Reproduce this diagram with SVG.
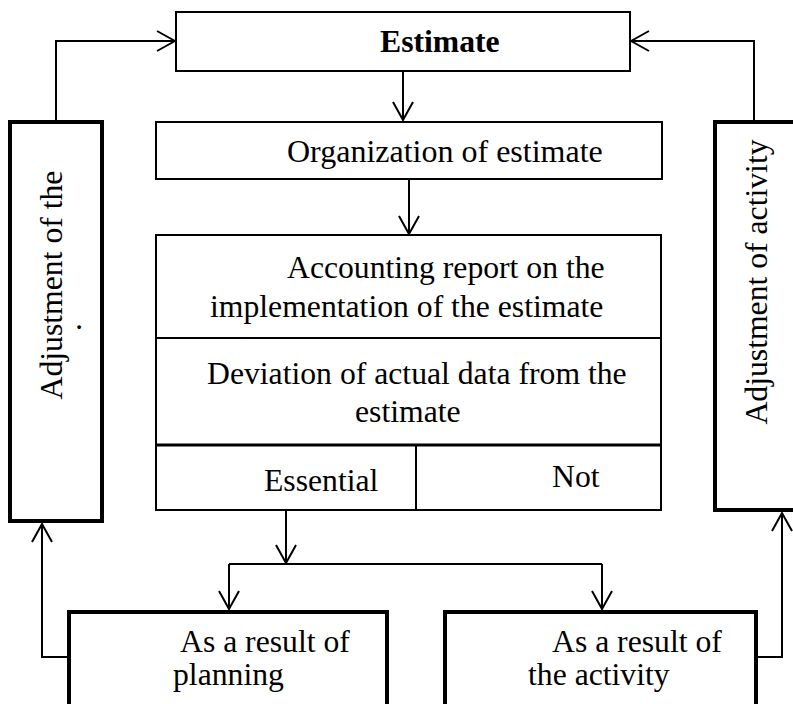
<svg xmlns="http://www.w3.org/2000/svg" width="793" height="704" viewBox="0 0 793 704" font-family="Liberation Serif, Times New Roman, serif" font-size="31.7">
  <style>
    .box { fill: #fff; stroke: #000; stroke-width: 2; }
    .heavy { fill: #fff; stroke: #000; stroke-width: 4; }
    .line { fill: none; stroke: #000; stroke-width: 2; }
    .bold { font-weight: bold; }
    .mid { text-anchor: middle; }
  </style>
  <defs>
    <marker id="arrow" viewBox="0 0 20 22" refX="19" refY="11" markerWidth="20" markerHeight="22" markerUnits="userSpaceOnUse" orient="auto">
      <path d="M1,1 L19,11 L1,21" fill="none" stroke="#000" stroke-width="2"/>
    </marker>
  </defs>

  <rect width="793" height="704" fill="#fff"/>

  <!-- Connectors -->
  <g id="connectors" class="line">
    <path d="M56,120 V41 H175" marker-end="url(#arrow)"/>
    <path d="M754,120 V41 H631" marker-end="url(#arrow)"/>
    <path d="M403,71 V120" marker-end="url(#arrow)"/>
    <path d="M409,179 V234" marker-end="url(#arrow)"/>
    <path d="M286,510 V563" marker-end="url(#arrow)"/>
    <path d="M229,564 H602"/>
    <path d="M229,564 V609" marker-end="url(#arrow)"/>
    <path d="M602,564 V609" marker-end="url(#arrow)"/>
    <path d="M67,657 H42 V524" marker-end="url(#arrow)"/>
    <path d="M758,657 H782 V513" marker-end="url(#arrow)"/>
  </g>

  <!-- Top: estimate -->
  <g id="estimate">
    <rect class="box" x="176" y="12" width="454" height="59"/>
    <text class="bold" x="380" y="52">Estimate</text>
  </g>

  <g id="organization">
    <rect class="box" x="156" y="122" width="506" height="57"/>
    <text x="287" y="162" font-size="32">Organization of estimate</text>
  </g>

  <!-- Report block with deviation and its two outcomes -->
  <g id="report">
    <rect class="box" x="156" y="235" width="505" height="275"/>
    <line class="line" x1="156" y1="338" x2="661" y2="338"/>
    <line x1="156" y1="445" x2="661" y2="445" stroke="#000" stroke-width="3"/>
    <line class="line" x1="416" y1="445" x2="416" y2="510"/>
    <text x="287" y="278">Accounting report on the</text>
    <text x="210" y="317">implementation of the estimate</text>
    <text x="207" y="384">Deviation of actual data from the</text>
    <text x="355" y="422">estimate</text>
  </g>
  <g id="essential">
    <text x="264" y="491">Essential</text>
  </g>
  <g id="not">
    <text x="552" y="487">Not</text>
  </g>

  <!-- Side feedback boxes -->
  <g id="adjust-estimate">
    <rect class="heavy" x="10" y="122" width="92" height="399"/>
    <text class="mid" transform="translate(61.5,285) rotate(-90)">Adjustment of the</text>
    <text class="mid" transform="translate(81,327) rotate(-90)">.</text>
  </g>
  <g id="adjust-activity">
    <rect class="heavy" x="715" y="122" width="100" height="388"/>
    <text class="mid" transform="translate(767,282) rotate(-90)">Adjustment of activity</text>
  </g>

  <!-- Bottom outcome boxes -->
  <g id="planning">
    <rect class="heavy" x="69" y="612" width="318" height="100"/>
    <text x="180" y="652">As a result of</text>
    <text x="173" y="685">planning</text>
  </g>
  <g id="activity">
    <rect class="heavy" x="445" y="612" width="311" height="100"/>
    <text x="552" y="652">As a result of</text>
    <text x="528" y="685">the activity</text>
  </g>
</svg>
